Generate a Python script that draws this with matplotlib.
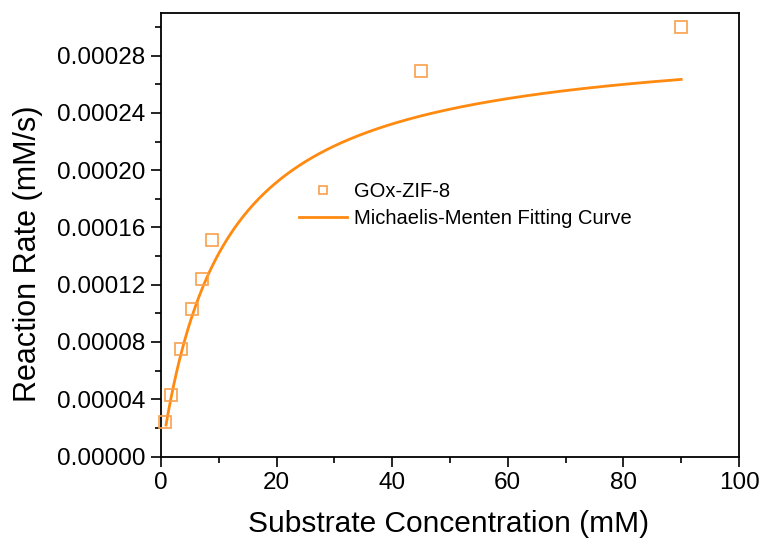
import numpy as np
import matplotlib
matplotlib.use("Agg")
import matplotlib.pyplot as plt
from matplotlib.ticker import MultipleLocator, FormatStrFormatter

plt.rcParams['font.family'] = ['Liberation Sans', 'DejaVu Sans']

# Measured initial rates for GOx-ZIF-8
substrate_mM = [0.7, 1.7, 3.4, 5.3, 7.1, 8.9, 45.0, 90.0]
rate_mM_s = [2.4e-5, 4.3e-5, 7.5e-5, 1.03e-4, 1.24e-4, 1.515e-4, 2.695e-4, 2.997e-4]

# Michaelis-Menten fit parameters
vmax = 2.95e-4
km = 10.8
fit_start, fit_end = 0.87, 90.0

x_ticks = [0, 20, 40, 60, 80, 100]
y_ticks = [0.0, 0.00004, 0.00008, 0.00012, 0.00016, 0.00020, 0.00024, 0.00028]

line_color = '#FF8A0F'
marker_color = '#F9A04B'

fig = plt.figure(figsize=(7.64, 5.44), dpi=100)
ax = fig.add_axes([0.2107, 0.1608, 0.7566, 0.8159])

s_fit = np.linspace(fit_start, fit_end, 400)
v_fit = vmax * s_fit / (km + s_fit)

ax.plot(substrate_mM, rate_mM_s, linestyle='none', marker='s', markersize=8,
        markerfacecolor='none', markeredgecolor=marker_color, markeredgewidth=1.2,
        label='GOx-ZIF-8', zorder=3, clip_on=False)
ax.plot(s_fit, v_fit, color=line_color, linewidth=2.0,
        label='Michaelis-Menten Fitting Curve', zorder=2)

ax.set_xlim(0, 100)
ax.set_ylim(0, 0.00031)
ax.set_xticks(x_ticks)
ax.set_yticks(y_ticks)
ax.xaxis.set_minor_locator(MultipleLocator(10))
ax.yaxis.set_minor_locator(MultipleLocator(0.00002))
ax.yaxis.set_major_formatter(FormatStrFormatter('%.5f'))

ax.tick_params(which='major', direction='out', length=7.5, width=1.2,
               labelsize=17.5, pad=4, top=False, right=False)
ax.tick_params(which='minor', direction='out', length=4.5, width=1.2,
               top=False, right=False)
for sp in ax.spines.values():
    sp.set_linewidth(1.3)

ax.set_xlabel('Substrate Concentration (mM)', fontsize=21.5)
ax.set_ylabel('Reaction Rate (mM/s)', fontsize=22)
ax.xaxis.set_label_coords(0.498, -0.1205)
ax.yaxis.set_label_coords(-0.204, 0.457)

leg = ax.legend(loc='upper left', bbox_to_anchor=(299 / 764, 1 - 182 / 544),
                bbox_transform=fig.transFigure, frameon=False, fontsize=14.5,
                handlelength=2.4, handletextpad=0.35, labelspacing=0.38,
                borderpad=0, borderaxespad=0, markerscale=0.75)

fig.savefig('out.png', dpi=100)
